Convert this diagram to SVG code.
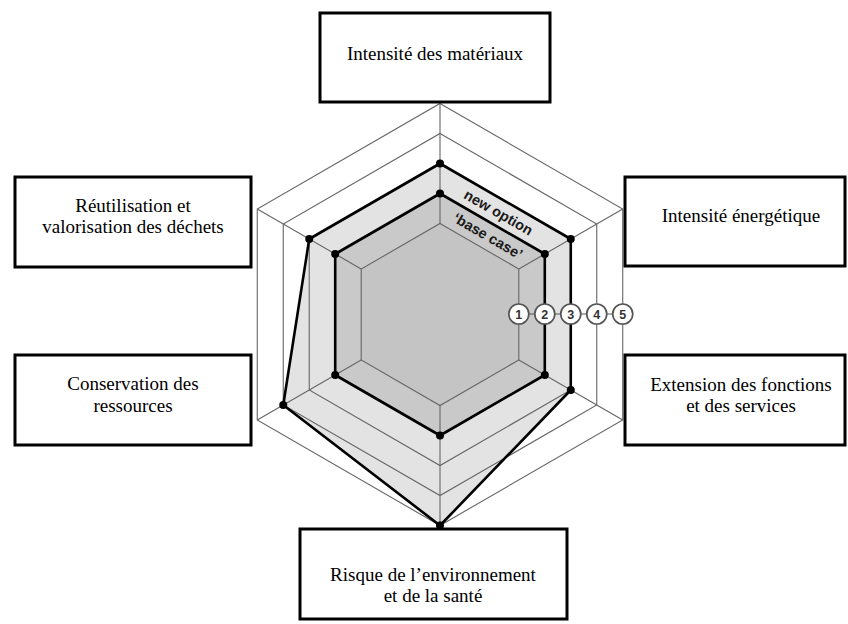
<svg xmlns="http://www.w3.org/2000/svg" width="848" height="624" viewBox="0 0 848 624">
<style>
.box{fill:#fff;stroke:#000;stroke-width:3}
.lbl{font-family:"Liberation Serif","Times New Roman",serif;font-size:19px;fill:#000;text-anchor:middle}
.grid{fill:none;stroke:#666;stroke-width:1.1}
.spoke{stroke:#666;stroke-width:1.1}
.poly{fill:none;stroke:#000;stroke-width:2.6;stroke-linejoin:round}
.dot{fill:#000}
.tag{font-family:"Liberation Sans",Arial,sans-serif;font-weight:bold;font-size:14.5px;fill:#1a1a1a;text-anchor:middle}
.num circle{fill:#fff;stroke:#555;stroke-width:1.7}
.num text{font-family:"Liberation Sans",Arial,sans-serif;font-weight:bold;font-size:12.5px;fill:#333;text-anchor:middle}
</style>
<rect width="848" height="624" fill="#fff"/>
<g id="chart">
  <polygon points="440,103.5 622.73,209 622.73,420 440,525.5 257.27,420 257.27,209" fill="#fff"/>
  <polygon id="new-option-fill" points="440,163.5 570.77,239 570.77,390 440,525.5 283.25,405 309.23,239" fill="#e3e3e3"/>
  <polygon id="base-case-fill" points="440,193.5 544.79,254 544.79,375 440,435.5 335.21,375 335.21,254" fill="#c9c9c9"/>
  <polygon points="440,223.5 518.81,269 518.81,360 440,405.5 361.19,360 361.19,269" fill="#c4c4c4"/>
  <polygon class="grid" points="440,223.5 518.81,269 518.81,360 440,405.5 361.19,360 361.19,269"/>
  <polygon class="grid" points="440,193.5 544.79,254 544.79,375 440,435.5 335.21,375 335.21,254"/>
  <polygon class="grid" points="440,163.5 570.77,239 570.77,390 440,465.5 309.23,390 309.23,239"/>
  <polygon class="grid" points="440,133.5 596.75,224 596.75,405 440,495.5 283.25,405 283.25,224"/>
  <polygon class="grid" points="440,103.5 622.73,209 622.73,420 440,525.5 257.27,420 257.27,209"/>
</g>
<g id="connectors">
  <line class="spoke" x1="440" y1="223.5" x2="440" y2="102"/>
  <line class="spoke" x1="518.81" y1="269" x2="622.73" y2="209"/>
  <line class="spoke" x1="518.81" y1="360" x2="622.73" y2="420"/>
  <line class="spoke" x1="440" y1="405.5" x2="440" y2="527"/>
  <line class="spoke" x1="361.19" y1="360" x2="257.27" y2="420"/>
  <line class="spoke" x1="361.19" y1="269" x2="257.27" y2="209"/>
</g>
<g id="base-case">
  <polygon class="poly" points="440,193.5 544.79,254 544.79,375 440,435.5 335.21,375 335.21,254"/>
  <circle class="dot" cx="440" cy="193.5" r="4"/>
  <circle class="dot" cx="544.79" cy="254" r="4"/>
  <circle class="dot" cx="544.79" cy="375" r="4"/>
  <circle class="dot" cx="440" cy="435.5" r="4"/>
  <circle class="dot" cx="335.21" cy="375" r="4"/>
  <circle class="dot" cx="335.21" cy="254" r="4"/>
  <text class="tag" transform="translate(488,236) rotate(30)" y="5">‘base case’</text>
</g>
<g id="new-option">
  <polygon class="poly" points="440,163.5 570.77,239 570.77,390 440,525.5 283.25,405 309.23,239"/>
  <circle class="dot" cx="440" cy="163.5" r="4"/>
  <circle class="dot" cx="570.77" cy="239" r="4"/>
  <circle class="dot" cx="570.77" cy="390" r="4"/>
  <circle class="dot" cx="440" cy="525.5" r="4"/>
  <circle class="dot" cx="283.25" cy="405" r="4"/>
  <circle class="dot" cx="309.23" cy="239" r="4"/>
  <text class="tag" transform="translate(498.5,212.5) rotate(30)" y="5">new option</text>
</g>
<g id="scale" class="num">
  <line x1="519" y1="314" x2="623" y2="314" stroke="#555" stroke-width="1.2"/>
  <circle cx="518.81" cy="314" r="10"/><text x="518.81" y="318.5">1</text>
  <circle cx="544.79" cy="314" r="10"/><text x="544.79" y="318.5">2</text>
  <circle cx="570.77" cy="314" r="10"/><text x="570.77" y="318.5">3</text>
  <circle cx="596.75" cy="314" r="10"/><text x="596.75" y="318.5">4</text>
  <circle cx="622.73" cy="314" r="10"/><text x="622.73" y="318.5">5</text>
</g>
<g id="node-materiaux">
  <rect class="box" x="320" y="13" width="230" height="89"/>
  <text class="lbl" x="435" y="60">Intensité des matériaux</text>
</g>
<g id="node-energetique">
  <rect class="box" x="625" y="177" width="220" height="89"/>
  <text class="lbl" x="741" y="222">Intensité énergétique</text>
</g>
<g id="node-extension">
  <rect class="box" x="625" y="355" width="220" height="90"/>
  <text class="lbl" x="741" y="391">Extension des fonctions</text>
  <text class="lbl" x="741" y="412">et des services</text>
</g>
<g id="node-risque">
  <rect class="box" x="300" y="529" width="267" height="90"/>
  <text class="lbl" x="433" y="581">Risque de l’environnement</text>
  <text class="lbl" x="433" y="602">et de la santé</text>
</g>
<g id="node-conservation">
  <rect class="box" x="15" y="355" width="236" height="90"/>
  <text class="lbl" x="133" y="390">Conservation des</text>
  <text class="lbl" x="133" y="412">ressources</text>
</g>
<g id="node-reutilisation">
  <rect class="box" x="15" y="177" width="236" height="90"/>
  <text class="lbl" x="133" y="212">Réutilisation et</text>
  <text class="lbl" x="133" y="233">valorisation des déchets</text>
</g>
</svg>
